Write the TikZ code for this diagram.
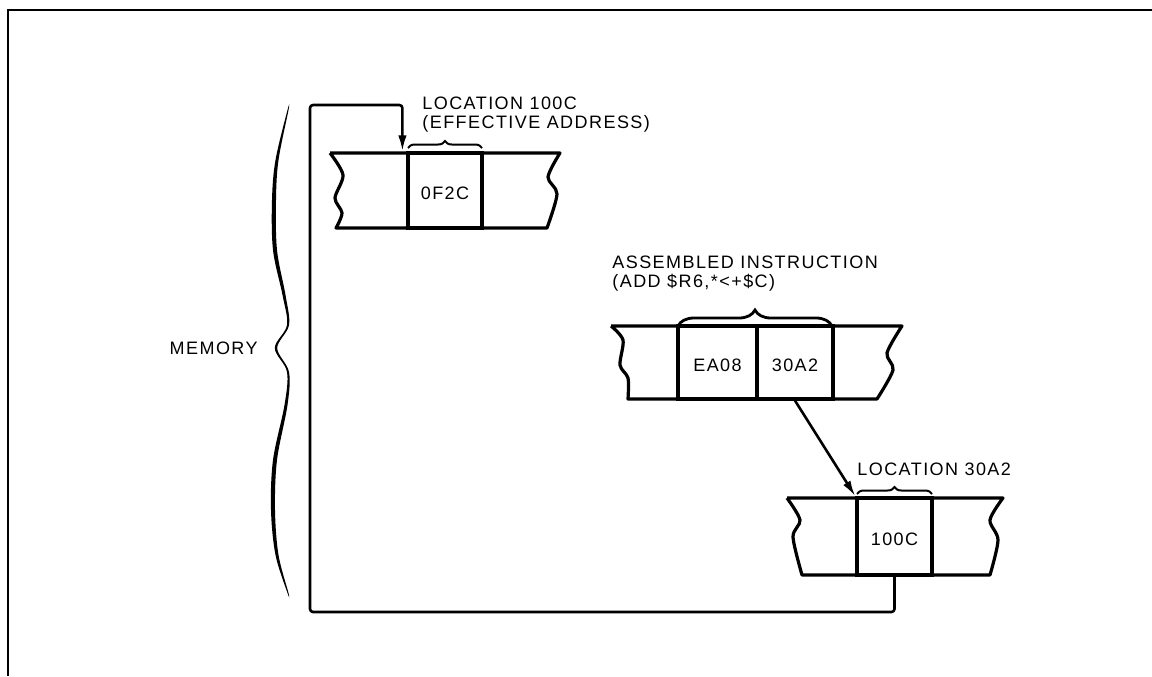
\documentclass[tikz,border=0pt]{standalone}
\usepackage{fontspec}
\newfontfamily\lblfont[LetterSpace=8]{Liberation Sans}
\usetikzlibrary{arrows.meta,decorations.pathreplacing}
\begin{document}
\begin{tikzpicture}[x=0.5pt,y=-0.5pt,
  txt/.style={font=\lblfont\fontsize{9}{9.5}\selectfont, inner sep=0pt, align=left},
  blk/.style={line width=1.6pt, line join=round},
  cell/.style={draw, rectangle, line width=1.6pt, inner sep=0pt,
    text height=9pt, text depth=0pt, font=\lblfont\fontsize{9}{9.5}\selectfont},
  conn/.style={line width=1.3pt, line join=round},
  tip/.style={-{Latex[length=8pt,width=4.2pt]}},
  smallbrace/.style={line width=1pt, decorate, decoration={brace, amplitude=#1}},
  frame/.style={line width=1.3pt}
]
\useasboundingbox (0,0) rectangle (1152,676);
% page frame (top and left only)
\draw[frame] (1152,10) -- (8,10) -- (8,676);

% ---------- block 1 ----------
\node[cell, minimum width=37pt, minimum height=37.5pt] (c1) at (445,190.5) {0F2C};
\draw[blk] (330,153) -- (560,153)
  -- plot[smooth, tension=0.5] coordinates {(560,153) (548,177) (557,194) (547,228)}
  -- (336,228)
  -- plot[smooth, tension=0.5] coordinates {(336,228) (342,213) (335,198) (343,175) (330,153)};
\draw[smallbrace=3.5pt] (408,148) -- (482,148);
\node[txt, anchor=north west] (l1) at (422,97) {LOCATION 100C\\(EFFECTIVE ADDRESS)};

% ---------- block 2 ----------
\node[cell, minimum width=39.5pt, minimum height=36.5pt] (c2a) at (717.5,362.5) {EA08};
\node[cell, minimum width=38pt, minimum height=36.5pt] (c2b) at (795,362.5) {30A2};
\draw[blk] (611,326) -- (902,326)
  -- plot[smooth, tension=0.5] coordinates {(902,326) (887,353) (893,370) (877,399)}
  -- (628,399)
  -- plot[smooth, tension=0.5] coordinates {(628,399) (628,378) (620,365) (623,340) (611,326)};
\draw[smallbrace=8pt, line width=1.4pt] (678,326) -- (832,326);
\node[txt, anchor=north west] (l2) at (612,256) {ASSEMBLED INSTRUCTION\\(ADD \$R6,*<+\$C)};

% ---------- block 3 ----------
\node[cell, minimum width=37.5pt, minimum height=38.5pt] (c3) at (894.5,536.5) {100C};
\draw[blk] (787,498) -- (1003,498)
  -- plot[smooth, tension=0.5] coordinates {(1003,498) (990,520) (998,540) (990,575)}
  -- (802,575)
  -- plot[smooth, tension=0.5] coordinates {(802,575) (793,537) (800,520) (787,498)};
\draw[smallbrace=3.5pt] (857,494) -- (932,494);
\node[txt, anchor=north west] (l3) at (857,463) {LOCATION 30A2};

% ---------- memory brace ----------
\fill plot[smooth cycle, tension=0.55] coordinates {
  (287.5,110) (275.5,160) (272,200) (273,250) (282.5,295) (287,325) (274.8,348)
  (287,372) (284.5,405) (273,460) (271,510) (275.5,555) (287.5,593)
  (288.5,593) (278.5,555) (275,510) (277,460) (287.5,405) (289,372) (277.2,348)
  (289,325) (285.5,295) (277,250) (276,200) (278.5,160) (288.5,110)};
\node[txt, anchor=east] (mem) at (258,348) {MEMORY};

% ---------- connectors ----------
\coordinate (lb) at (310,612);
\coordinate (lt) at (310,105);
\draw[conn, tip, rounded corners=1.5pt] (c3.south) |- (lb) -- (lt) -| ([xshift=-2pt]c1.north west);
\draw[conn, tip] (c2b.south) -- (c3.north west);
\end{tikzpicture}
\end{document}
